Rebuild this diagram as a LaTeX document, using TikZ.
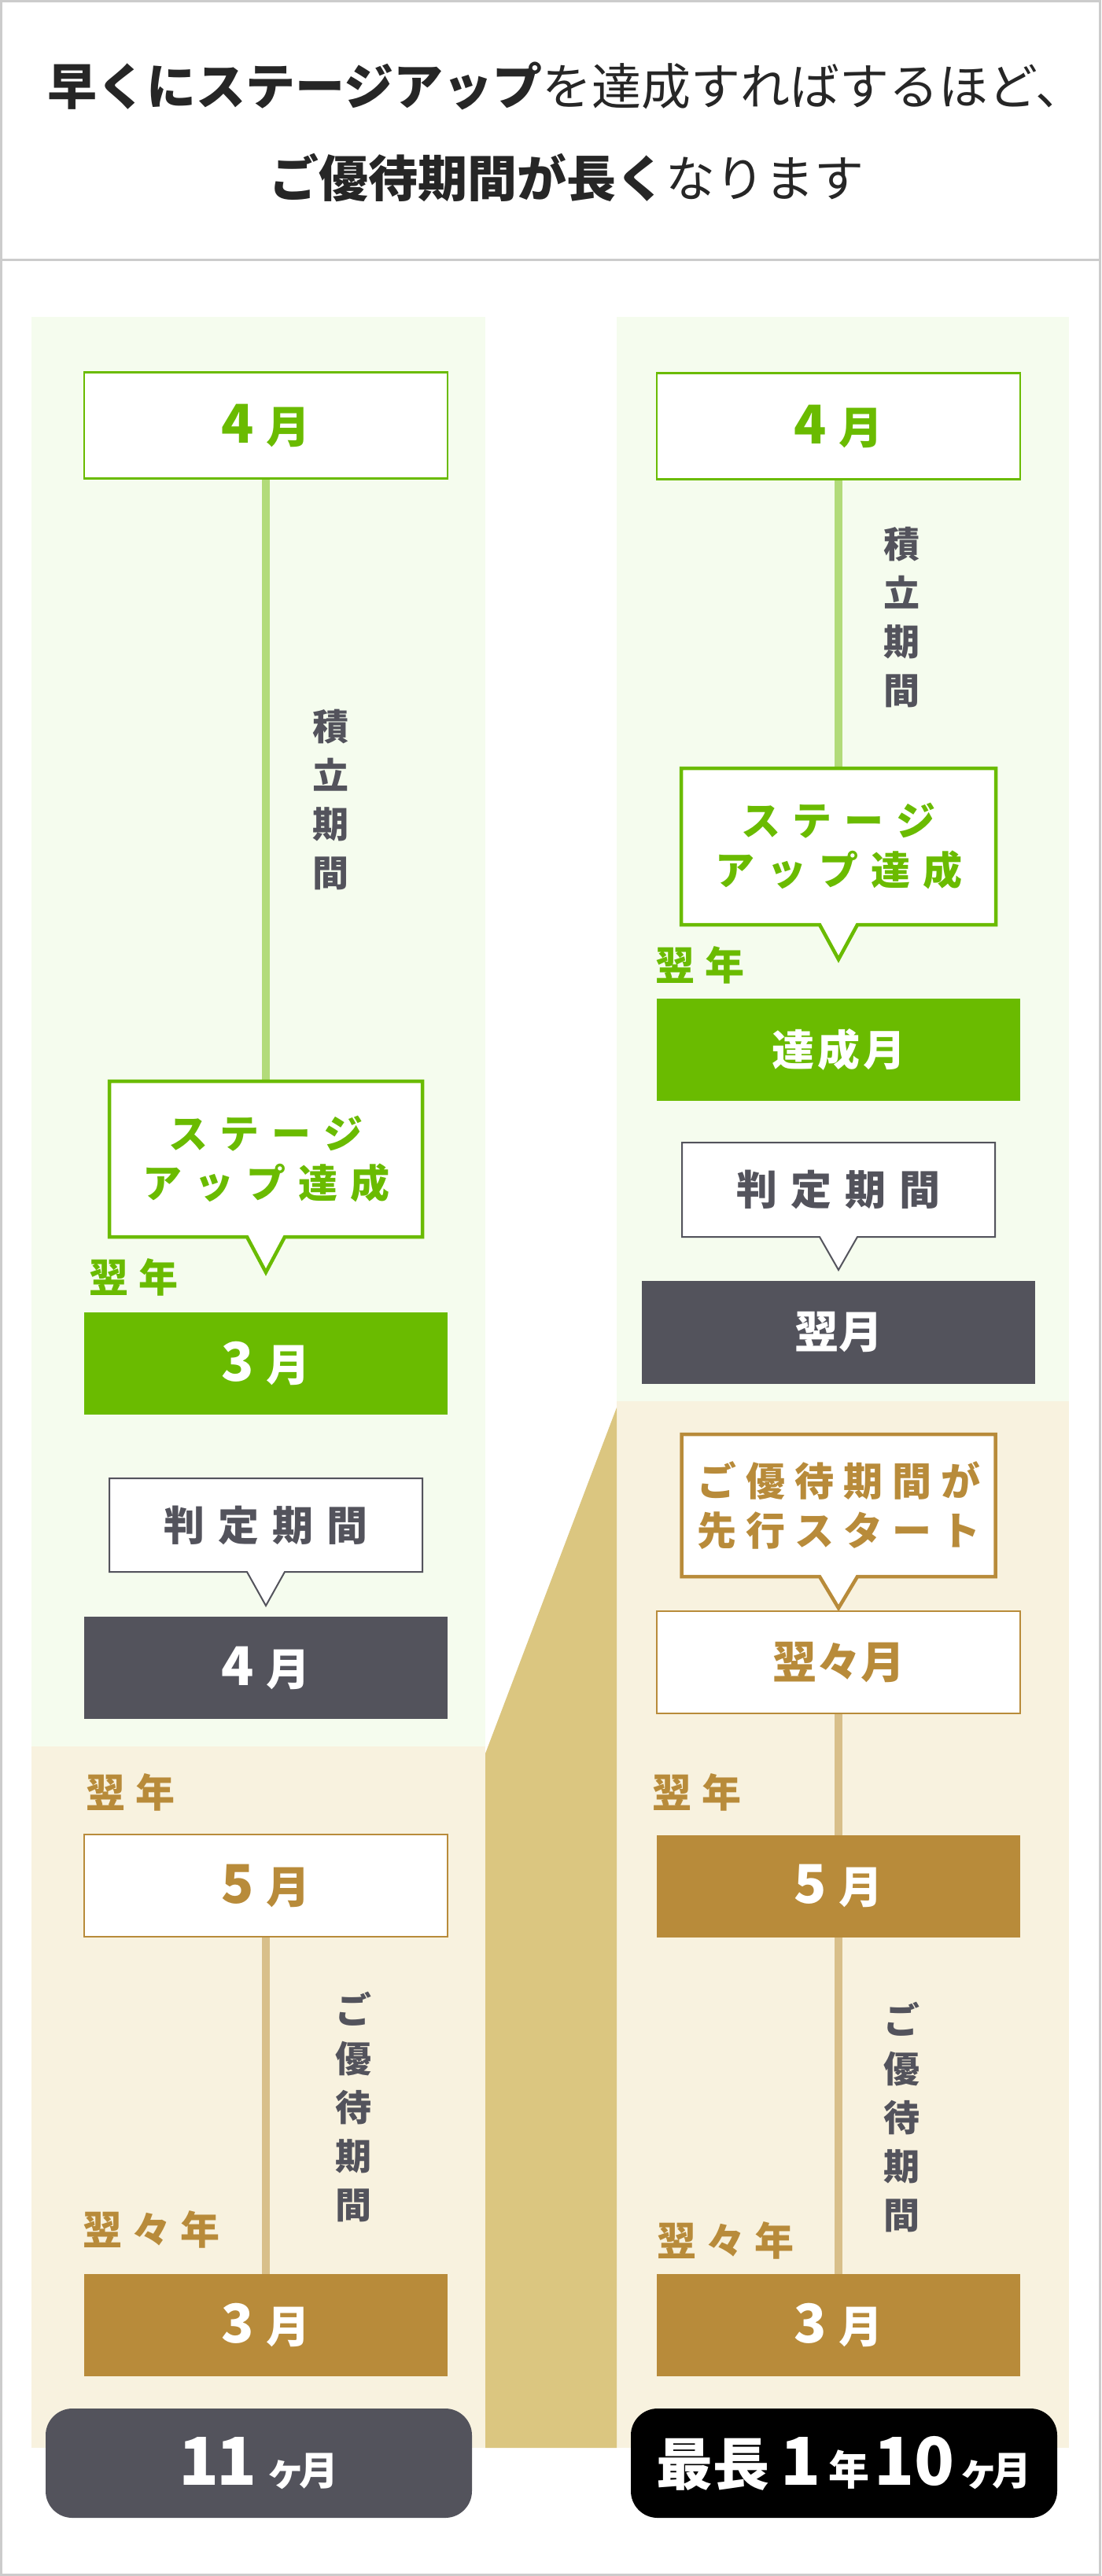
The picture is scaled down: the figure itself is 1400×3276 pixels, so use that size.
\documentclass[tikz,border=0pt]{standalone}
\usepackage{fontspec}
\setmainfont{Noto Sans CJK JP}
\usetikzlibrary{calc}
\definecolor{grn}{HTML}{6ABB00}
\definecolor{grnline}{HTML}{B2DB7A}
\definecolor{grnbg}{HTML}{F5FCEE}
\definecolor{beige}{HTML}{F8F2DF}
\definecolor{gold}{HTML}{B88B3A}
\definecolor{goldline}{HTML}{D8BF8A}
\definecolor{trap}{HTML}{DBC680}
\definecolor{dk}{HTML}{53535C}
\definecolor{bordergray}{HTML}{CCCCCC}
\definecolor{ttl}{HTML}{262626}
\pgfdeclarelayer{back}\pgfdeclarelayer{mid}\pgfsetlayers{back,mid,main}
\makeatletter
\def\ls#1#2{\def\ls@k{#1}\ls@a#2\ls@end}
\def\ls@a#1{#1\futurelet\ls@n\ls@b}
\def\ls@b{\ifx\ls@n\ls@end\expandafter\@gobble\else\kern\ls@k\relax\expandafter\ls@a\fi}
\let\ls@end\relax
\makeatother
\newcommand\mon[1]{{\fontsize{68}{68}\selectfont #1}\kern15pt 月}
\newcommand\mycallout[4]{%
\begin{pgfonlayer}{mid}
\draw[#2, line width=#3, fill=white, line join=miter] (#1.north west) -- (#1.north east) -- (#1.south east) -- ([xshift=24pt]#1.south) -- ([yshift=-#4pt]#1.south) -- ([xshift=-24pt]#1.south) -- (#1.south west) -- cycle;
\end{pgfonlayer}}
\tikzset{
 every node/.style={inner sep=0, outer sep=0},
 mbox/.style={minimum width=462, minimum height=130, font=\fontsize{56}{56}\selectfont\bfseries},
 wgreen/.style={mbox, fill=white, draw=grn, line width=2.5, text=grn},
 fgreen/.style={mbox, fill=grn, text=white},
 fdark/.style={mbox, fill=dk, text=white},
 ftan/.style={mbox, fill=gold, text=white},
 wtan/.style={mbox, fill=white, draw=gold, line width=2.5, text=gold},
 cotext/.style={align=center, font=\fontsize{50}{63}\selectfont\bfseries},
 ylabel/.style={anchor=west, font=\fontsize{50}{50}\selectfont\bfseries},
 vtext/.style={align=center, text=dk, font=\fontsize{46}{62}\selectfont\bfseries},
 tline/.style={line width=10},
}
\begin{document}
\begin{tikzpicture}[x=1pt,y=-1pt]
\useasboundingbox (0,0) rectangle (1400,3276);
\begin{pgfonlayer}{back}
\fill[white] (0,0) rectangle (1400,3276);
\fill[grnbg] (40,403) rectangle (617,2221);
\fill[beige] (40,2221) rectangle (617,3113);
\fill[grnbg] (784,403) rectangle (1359,1782);
\fill[beige] (784,1782) rectangle (1359,3113);
\fill[trap] (617,2230) -- (784,1790) -- (784,3113) -- (617,3113) -- cycle;
\draw[bordergray, line width=3] (0,330) -- (1400,330);
\draw[bordergray, line width=3] (1.5,1.5) rectangle (1398.5,3274.5);
\end{pgfonlayer}

% title
\node[font=\fontsize{63}{63}\selectfont, text=ttl] (t1) at (720,109) {{\bfseries 早くにステージアップ}を達成すればするほど、};
\node[font=\fontsize{63}{63}\selectfont, text=ttl] (t2) at (720,226) {{\bfseries ご優待期間が長く}なります};

% ===== left column =====
\node[wgreen, minimum height=135] (L4) at (338,541) {\mon{4}};
\node[vtext] (Lv1) at (420,1017) {積\\立\\期\\間};
\node[cotext, text=grn, minimum width=398, minimum height=198] (Lco) at (338,1474) {\ls{16pt}{ステージ}\\\ls{16pt}{アップ達成}};
\mycallout{Lco}{grn}{4.5}{45}
\node[ylabel, text=grn] (Ly1) at (113,1624) {\ls{13pt}{翌年}};
\node[fgreen] (L3) at (338,1734) {\mon{3}};
\node[cotext, text=dk, font=\fontsize{52}{52}\selectfont\bfseries, minimum width=398, minimum height=119] (Lj) at (338,1939.5) {\ls{17pt}{判定期間}};
\mycallout{Lj}{dk}{2}{43}
\node[fdark] (L4b) at (338,2121) {\mon{4}};
\node[ylabel, text=gold] (Ly2) at (109,2279) {\ls{13pt}{翌年}};
\node[wtan] (L5) at (338,2398) {\mon{5}};
\node[vtext] (Lv2) at (449,2679) {ご\\優\\待\\期\\間};
\node[ylabel, text=gold] (Ly3) at (105,2835) {\ls{12pt}{翌々年}};
\node[ftan] (L3b) at (338,2957) {\mon{3}};
\node[fill=dk, rounded corners=34, minimum width=542, minimum height=139, text=white] (L11) at (329,3132.5)
 {{\fontsize{84}{84}\selectfont\bfseries 1\kern-4pt1}\kern12pt{\fontsize{50}{50}\selectfont\bfseries ヶ\kern-8pt月}};

\begin{pgfonlayer}{back}
\draw[grnline, tline] (L4.south) -- (Lco.north);
\draw[goldline, tline] (L5.south) -- (L3b.north);
\end{pgfonlayer}

% ===== right column =====
\node[wgreen, minimum height=135] (R4) at (1066,542) {\mon{4}};
\node[vtext] (Rv1) at (1146,785) {積\\立\\期\\間};
\node[cotext, text=grn, minimum width=400, minimum height=199] (Rco) at (1066,1076.5) {\ls{16pt}{ステージ}\\\ls{16pt}{アップ達成}};
\mycallout{Rco}{grn}{4.5}{44}
\node[ylabel, text=grn] (Ry1) at (833,1227) {\ls{13pt}{翌年}};
\node[fgreen, font=\fontsize{54}{54}\selectfont\bfseries] (Rt) at (1066,1335) {\ls{4pt}{達成月}};
\node[cotext, text=dk, font=\fontsize{52}{52}\selectfont\bfseries, minimum width=398, minimum height=120] (Rj) at (1066,1513) {\ls{17pt}{判定期間}};
\mycallout{Rj}{dk}{2}{42}
\node[fdark, minimum width=500, minimum height=131] (Rn) at (1066,1694.5) {翌月};
\node[cotext, text=gold, minimum width=399, minimum height=181] (Rs) at (1066,1914.5) {\ls{12pt}{ご優待期間が}\\\ls{12pt}{先行スタート}};
\mycallout{Rs}{gold}{4.5}{40}
\node[wtan] (Rnn) at (1066,2114) {翌々月};
\node[ylabel, text=gold] (Ry2) at (829,2279) {\ls{13pt}{翌年}};
\node[ftan] (R5) at (1066,2398.5) {\mon{5}};
\node[vtext] (Rv2) at (1146,2692) {ご\\優\\待\\期\\間};
\node[ylabel, text=gold] (Ry3) at (835,2849) {\ls{12pt}{翌々年}};
\node[ftan] (R3) at (1066,2957) {\mon{3}};
\node[fill=black, rounded corners=34, minimum width=542, minimum height=139, text=white] (Rmax) at (1073,3132.5)
 {{\fontsize{72}{72}\selectfont\bfseries 最長}\kern14pt{\fontsize{84}{84}\selectfont\bfseries 1}\kern10pt{\fontsize{52}{52}\selectfont\bfseries 年}\kern6pt{\fontsize{84}{84}\selectfont\bfseries 10}\kern6pt{\fontsize{50}{50}\selectfont\bfseries ヶ\kern-8pt月}};

\begin{pgfonlayer}{back}
\draw[grnline, tline] (R4.south) -- (Rco.north);
\draw[goldline, tline] (Rnn.south) -- (R5.north);
\draw[goldline, tline] (R5.south) -- (R3.north);
\end{pgfonlayer}
\end{tikzpicture}
\end{document}
